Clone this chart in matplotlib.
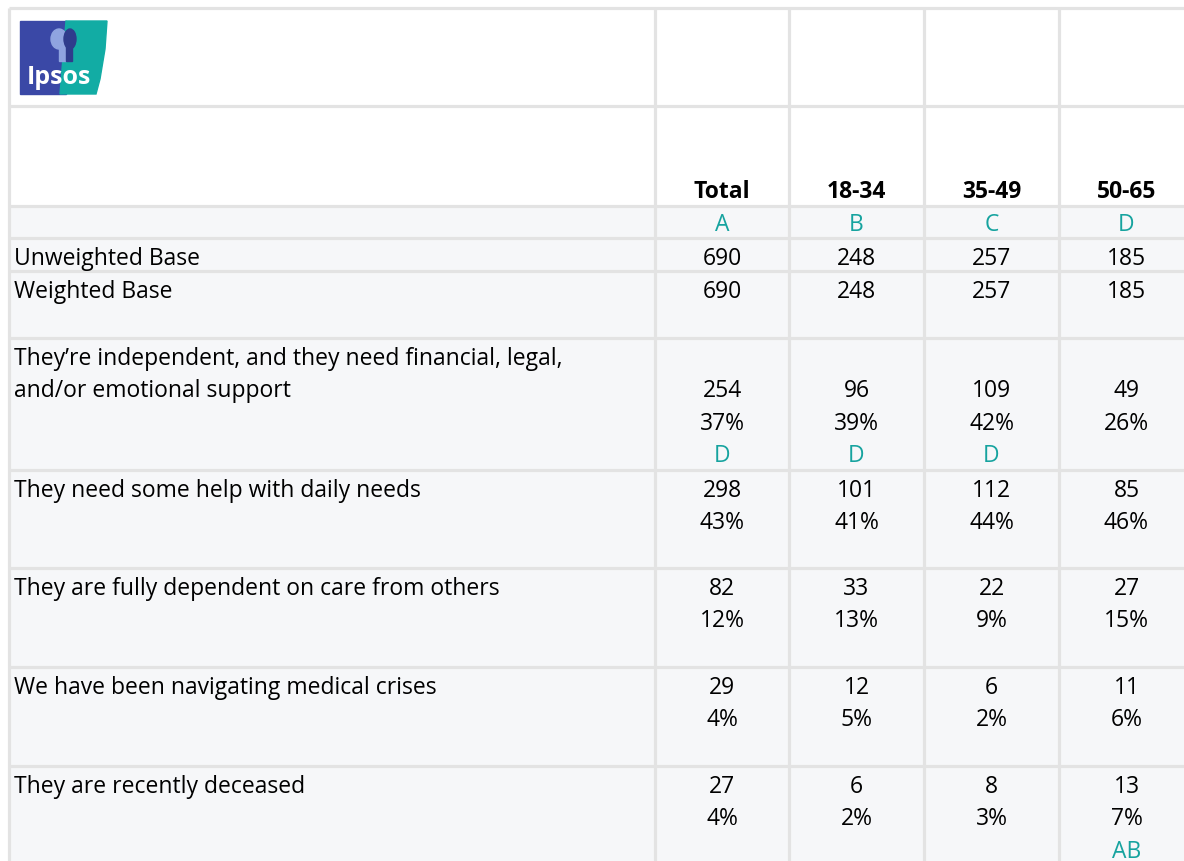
import matplotlib
matplotlib.use("Agg")
import matplotlib.pyplot as plt
from matplotlib.patches import Rectangle, Polygon, Ellipse

plt.rcParams["font.family"] = ["Open Sans", "DejaVu Sans"]

# data
columns = ["Total", "18-34", "35-49", "50-65"]
col_letters = ["A", "B", "C", "D"]
unweighted_base = [690, 248, 257, 185]
weighted_base = [690, 248, 257, 185]

answers = [
    ["They\u2019re independent, and they need financial, legal,", "and/or emotional support"],
    ["They need some help with daily needs"],
    ["They are fully dependent on care from others"],
    ["We have been navigating medical crises"],
    ["They are recently deceased"],
]
counts = [
    [254, 96, 109, 49],
    [298, 101, 112, 85],
    [82, 33, 22, 27],
    [29, 12, 6, 11],
    [27, 6, 8, 13],
]
percents = [
    [37, 39, 42, 26],
    [43, 41, 44, 46],
    [12, 13, 9, 15],
    [4, 5, 2, 6],
    [4, 2, 3, 7],
]
sig_letters = [
    ["D", "D", "D", ""],
    ["", "", "", ""],
    ["", "", "", ""],
    ["", "", "", ""],
    ["", "", "", "AB"],
]

# layout (pixels)
W, H = 1184, 862
col_edges = [9, 655, 789, 924, 1059, 1194]
row_edges = [9, 107, 207, 239, 272, 339, 471, 569, 668, 767, 900]
grid_col = "#e3e3e3"
cell_bg = "#f6f7f9"
teal = "#16a39f"
line_h = 32.5
fs = 16.5

fig = plt.figure(figsize=(W / 100, H / 100), dpi=100)
ax = fig.add_axes([0, 0, 1, 1])
ax.set_xlim(0, W)
ax.set_ylim(H, 0)
ax.axis("off")

# backgrounds
ax.add_patch(Rectangle((col_edges[0], row_edges[2]), W, H, color=cell_bg, zorder=0))

# grid
for y in row_edges:
    ax.plot([col_edges[0], W], [y, y], color=grid_col, lw=2.3, solid_capstyle="butt", zorder=2)
for x in col_edges:
    ax.plot([x, x], [row_edges[0], H], color=grid_col, lw=2.3, solid_capstyle="butt", zorder=2)

centers = [(col_edges[i + 1] + col_edges[i + 2]) / 2 for i in range(len(columns))]
label_x = 14
dy = 20

# header row
for i, c in enumerate(columns):
    ax.text(centers[i], row_edges[2] - 14.5, c, ha="center", va="center",
            fontsize=fs, fontweight="bold", color="black")
    ax.text(centers[i], row_edges[2] + 18.5, col_letters[i], ha="center",
            va="center", fontsize=fs, color=teal)

# base rows
for r, (name, vals) in enumerate([("Unweighted Base", unweighted_base),
                                  ("Weighted Base", weighted_base)]):
    y = row_edges[3 + r] + dy
    ax.text(label_x, y, name, ha="left", va="center", fontsize=fs)
    for i, v in enumerate(vals):
        ax.text(centers[i], y, str(v), ha="center", va="center", fontsize=fs)

# answer rows
for r, lines in enumerate(answers):
    y0 = row_edges[5 + r] + dy
    for k, ln in enumerate(lines):
        ax.text(label_x, y0 + k * line_h, ln, ha="left", va="center", fontsize=fs)
    yv = y0 + (len(lines) - 1) * line_h
    for i in range(len(columns)):
        ax.text(centers[i], yv, str(counts[r][i]), ha="center", va="center", fontsize=fs)
        ax.text(centers[i], yv + line_h, f"{percents[r][i]}%", ha="center",
                va="center", fontsize=fs)
        if sig_letters[r][i]:
            ax.text(centers[i], yv + 2 * line_h, sig_letters[r][i], ha="center",
                    va="center", fontsize=fs, color=teal)

# logo
ax.add_patch(Rectangle((20, 22), 46, 73, color="#3a48a6", zorder=3))
ax.add_patch(Polygon([(66, 22), (107, 22), (105, 50), (100, 80), (96, 95), (60, 95)],
                     closed=True, color="#12aca4", zorder=3))
ax.add_patch(Ellipse((59, 40), 16, 20, color="#8fa4e0", zorder=4))
ax.add_patch(Rectangle((59, 46), 7, 16, color="#8fa4e0", zorder=4))
ax.add_patch(Ellipse((70, 40), 12, 20, color="#2f3c8c", zorder=4))
ax.add_patch(Rectangle((66, 46), 6, 16, color="#2f3c8c", zorder=4))
ax.text(59, 77, "Ipsos", ha="center", va="center", fontsize=18, fontweight="bold",
        color="white", zorder=5)

fig.savefig("out.png", dpi=100)
